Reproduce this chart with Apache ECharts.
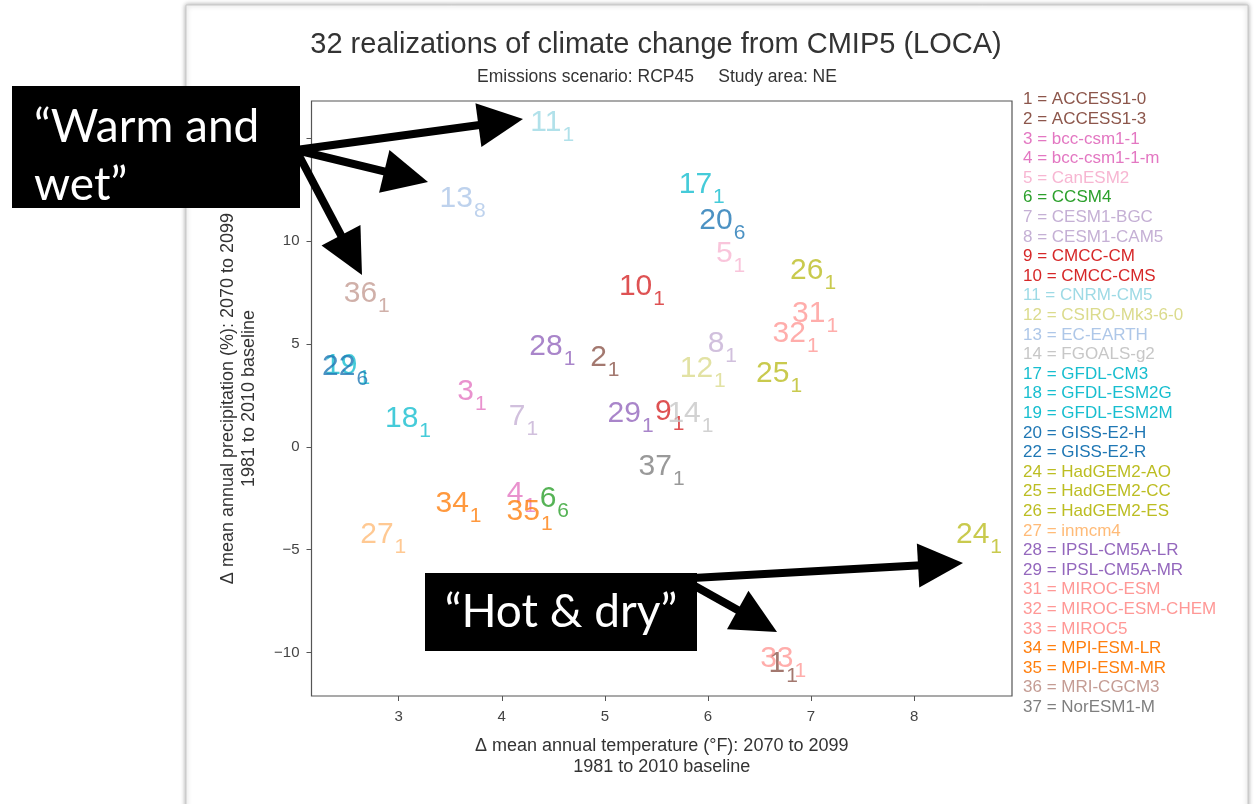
<!DOCTYPE html>
<html>
<head>
<meta charset="utf-8">
<script src="https://cdn.jsdelivr.net/npm/echarts@6/dist/echarts.min.js"></script>
<style>
html,body{margin:0;padding:0;background:#fff;}
#chart{width:1255px;height:804px;}
</style>
</head>
<body>
<div id="chart"></div>
<script>
// ---- data ----
const modelIds = [1,2,3,4,5,6,7,8,9,10,11,12,13,14,17,18,19,20,22,24,25,26,27,28,29,31,32,33,34,35,36,37];
const modelNames = ['ACCESS1-0','ACCESS1-3','bcc-csm1-1','bcc-csm1-1-m','CanESM2','CCSM4','CESM1-BGC','CESM1-CAM5','CMCC-CM','CMCC-CMS','CNRM-CM5','CSIRO-Mk3-6-0','EC-EARTH','FGOALS-g2','GFDL-CM3','GFDL-ESM2G','GFDL-ESM2M','GISS-E2-H','GISS-E2-R','HadGEM2-AO','HadGEM2-CC','HadGEM2-ES','inmcm4','IPSL-CM5A-LR','IPSL-CM5A-MR','MIROC-ESM','MIROC-ESM-CHEM','MIROC5','MPI-ESM-LR','MPI-ESM-MR','MRI-CGCM3','NorESM1-M'];
const realization = [1,1,1,1,1,6,1,1,1,1,1,1,8,1,1,1,1,6,6,1,1,1,1,1,1,1,1,1,1,1,1,1];
const tempChange = [6.73,5.00,3.71,4.19,6.22,4.51,4.21,6.14,5.63,5.36,4.49,5.95,3.62,5.83,5.94,3.09,2.50,6.14,2.48,8.63,6.69,7.02,2.85,4.49,5.25,7.04,6.85,6.73,3.58,4.27,2.69,5.55];
const precipChange = [-10.75,4.14,2.49,-2.49,9.17,-2.71,1.27,4.80,1.52,7.59,15.53,3.61,11.87,1.42,12.52,1.18,3.75,10.77,3.70,-4.46,3.34,8.34,-4.48,4.67,1.42,6.28,5.31,-10.49,-2.95,-3.34,7.25,-1.16];
const xTickValues = [3,4,5,6,7,8];
const yTickValues = [-10,-5,0,5,10,15];
const titleText = '32 realizations of climate change from CMIP5 (LOCA)';
const subtitleText = 'Emissions scenario: RCP45     Study area: NE';
const xAxisTitle = 'Δ mean annual temperature (°F): 2070 to 2099\n1981 to 2010 baseline';
const yAxisTitle = 'Δ mean annual precipitation (%): 2070 to 2099\n1981 to 2010 baseline';
const calloutWet = '“Warm and\nwet”';
const calloutDry = '“Hot & dry”';

// ---- styles ----
const modelColors = ['#8c564b','#8c564b','#e377c2','#e377c2','#f7b6d2','#2ca02c','#c5b0d5','#c5b0d5','#d62728','#d62728','#9edae5','#dbdb8d','#aec7e8','#c7c7c7','#17becf','#17becf','#17becf','#1f77b4','#1f77b4','#bcbd22','#bcbd22','#bcbd22','#ffbb78','#9467bd','#9467bd','#ff9896','#ff9896','#ff9896','#ff7f0e','#ff7f0e','#c49c94','#7f7f7f'];
const FONT = "'Liberation Sans', Arial, sans-serif";

const chart = echarts.init(document.getElementById('chart'), null, {renderer:'canvas'});

const series = modelNames.map((name, i) => ({
  type: 'scatter',
  name: name,
  symbolSize: 1,
  itemStyle: {color: 'rgba(0,0,0,0)'},
  emphasis: {disabled: true},
  data: [[tempChange[i], precipChange[i]]],
  label: {
    show: true,
    position: 'inside',
    align: 'center',
    verticalAlign: 'middle',
    color: modelColors[i],
    formatter: '{a|' + modelIds[i] + '}{b|' + realization[i] + '}',
    rich: {
      a: {fontFamily: FONT, fontSize: 30, height: 30, verticalAlign: 'top', color: modelColors[i]},
      b: {fontFamily: FONT, fontSize: 21, height: 21, padding: [17, 0, 0, 1], color: modelColors[i]}
    }
  }
}));

function arrow(x1, y1, x2, y2) {
  const hl = 45, hw = 22;
  const dx = x2 - x1, dy = y2 - y1, L = Math.hypot(dx, dy);
  const ux = dx / L, uy = dy / L;
  const bx = x2 - ux * hl, by = y2 - uy * hl;
  return [
    {type: 'line', z: 100, shape: {x1: x1, y1: y1, x2: bx + ux * 3, y2: by + uy * 3}, style: {stroke: '#000', lineWidth: 8}},
    {type: 'polygon', z: 100, shape: {points: [[x2, y2], [bx - uy * hw, by + ux * hw], [bx + uy * hw, by - ux * hw]]}, style: {fill: '#000'}}
  ];
}

const graphics = [
  {type: 'rect', z: -10, shape: {x: 186, y: 5, width: 1062, height: 840},
   style: {fill: '#fff', stroke: '#c8c8c8', lineWidth: 1, shadowBlur: 5, shadowColor: 'rgba(0,0,0,0.35)'}},
  {type: 'text', z: 5, x: 656, y: 45,
   style: {text: titleText, font: "29px 'Liberation Sans', Arial", fill: '#333', align: 'center', verticalAlign: 'middle', textAlign: 'center', textVerticalAlign: 'middle'}},
  {type: 'text', z: 5, x: 657, y: 77,
   style: {text: subtitleText, font: "17.5px 'Liberation Sans', Arial", fill: '#333', align: 'center', verticalAlign: 'middle', textAlign: 'center', textVerticalAlign: 'middle'}},
  {type: 'rect', z: 99, shape: {x: 12, y: 86, width: 288, height: 122}, style: {fill: '#000'}},
  {type: 'text', z: 101, x: 34, y: 98,
   style: {text: calloutWet, font: "46px Lato", fill: '#fff', lineHeight: 58, align: 'left', verticalAlign: 'top', textAlign: 'left', textVerticalAlign: 'top'}},
  {type: 'rect', z: 99, shape: {x: 425, y: 573, width: 272, height: 78}, style: {fill: '#000'}},
  {type: 'text', z: 101, x: 561, y: 612,
   style: {text: calloutDry, font: "46px Lato", fill: '#fff', align: 'center', verticalAlign: 'middle', textAlign: 'center', textVerticalAlign: 'middle'}}
].concat(
  arrow(296, 150, 523, 119),
  arrow(296, 150, 428, 182),
  arrow(296, 150, 362, 275),
  arrow(693, 578, 963, 563),
  arrow(693, 585, 777, 632)
);

const option = {
  animation: false,
  backgroundColor: 'transparent',
  textStyle: {fontFamily: FONT},
  grid: {left: 311.5, top: 101, width: 700.5, height: 595, show: true, borderColor: '#555', borderWidth: 1.2, backgroundColor: 'transparent'},
  xAxis: {
    type: 'value', min: 2.154, max: 8.95,
    axisLine: {show: false, onZero: false},
    splitLine: {show: false},
    axisTick: {show: true, inside: false, length: 5, customValues: xTickValues, lineStyle: {color: '#555'}},
    axisLabel: {customValues: xTickValues, margin: 13, fontSize: 15, color: '#444', fontFamily: FONT},
    name: xAxisTitle, nameLocation: 'middle', nameGap: 40,
    nameTextStyle: {fontSize: 18, color: '#333', lineHeight: 21, fontFamily: FONT}
  },
  yAxis: {
    type: 'value', min: -12.11, max: 16.8,
    axisLine: {show: false, onZero: false},
    splitLine: {show: false},
    axisTick: {show: true, inside: false, length: 5, customValues: yTickValues, lineStyle: {color: '#555'}},
    axisLabel: {customValues: yTickValues, margin: 12, fontSize: 15, color: '#444', fontFamily: FONT,
      formatter: v => String(v).replace('-', '\u2212')},
    name: yAxisTitle, nameLocation: 'middle', nameGap: 52, nameRotate: 90,
    nameTextStyle: {fontSize: 18, color: '#333', lineHeight: 21, fontFamily: FONT}
  },
  legend: {
    orient: 'vertical', left: 1018, top: 90, padding: 0, itemGap: 0,
    itemWidth: 0, itemHeight: 10, icon: 'none', selectedMode: false,
    formatter: name => modelIds[modelNames.indexOf(name)] + ' = ' + name,
    textStyle: {fontFamily: FONT, fontSize: 17, lineHeight: 19.6},
    data: modelNames.map((m, i) => ({name: m, textStyle: {color: modelColors[i]}}))
  },
  graphic: {elements: graphics},
  series: series
};
chart.setOption(option);
</script>
</body>
</html>
